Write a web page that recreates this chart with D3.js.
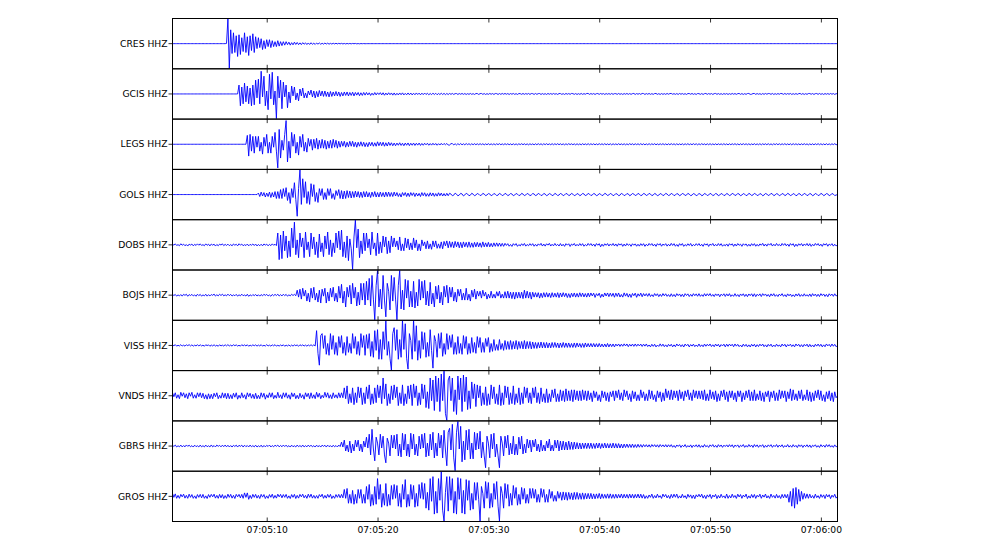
<!DOCTYPE html>
<html><head><meta charset="utf-8">
<script src="https://cdn.jsdelivr.net/npm/d3@7"></script>
<style>html,body{margin:0;padding:0;background:#fff;} svg{display:block;}</style>
</head><body>
<svg id="chart" width="1000" height="543"></svg>
<script>
// ---------------- DATA ----------------
const stations = ["CRES HHZ","GCIS HHZ","LEGS HHZ","GOLS HHZ","DOBS HHZ","BOJS HHZ","VISS HHZ","VNDS HHZ","GBRS HHZ","GROS HHZ"];
const startTime = "2000-01-01T07:05:01.500Z";
const endTime = "2000-01-01T07:06:01.500Z";
const sampleSeconds = 0.125;
const tickTimes = ["07:05:10","07:05:20","07:05:30","07:05:40","07:05:50","07:06:00"];

// amplitudes (pixel-like units, +-25 = panel edge), one value every 0.125 s (20 per row = 2.5 s)
const CRES = [
0,0,0,0,0,0,0,0,0,0,0,0,0,0,0,0,0,0,0,0,
0,0,0,0,0,0,0,0,0,0,0,0,0,0,0,0,0,0,0,0.2,
25,-25,14,-10,11,-9,8,-13,9,-11,6,-8,11,-9,7,-12,8,-7,10,-9,
7,-5,6,-4,5,-6,3,-5,4,-3,4,-4,3,-3,2,-3,3,-2.5,2,-2,
2,-1.5,2,-1,1.5,-1.5,1,-1.2,1.5,-0.8,1.2,-1,0.8,-1,1,-0.6,0.8,-0.9,0.7,-0.8,
0.9,-0.7,0.5,-0.8,0.6,-0.5,0.7,-0.6,0.4,-0.5,0.6,-0.4,0.5,-0.5,0.3,-0.4,0.4,-0.3,0.4,-0.3,
0.3,-0.2,0.3,-0.3,0.2,-0.3,0.2,-0.2,0.2,-0.2,0.2,-0.1,0.2,-0.2,0.1,-0.2,0.1,-0.1,0.1,-0.1,
0,0,0,0,0,0,0,0,0,0,0,0,0,0,0,0,0,0,0,0,
0,0,0,0,0,0,0,0,0,0,0,0,0,0,0,0,0,0,0,0,
0,0,0,0,0,0,0,0,0,0,0,0,0,0,0,0,0,0,0,0,
0,0,0,0,0,0,0,0,0,0,0,0,0,0,0,0,0,0,0,0,
0,0,0,0,0,0,0,0,0,0,0,0,0,0,0,0,0,0,0,0,
0,0,0,0,0,0,0,0,0,0,0,0,0,0,0,0,0,0,0,0,
0,0,0,0,0,0,0,0,0,0,0,0,0,0,0,0,0,0,0,0,
0,0,0,0,0,0,0,0,0,0,0,0,0,0,0,0,0,0,0,0,
0,0,0,0,0,0,0,0,0,0,0,0,0,0,0,0,0,0,0,0,
0,0,0,0,0,0,0,0,0,0,0,0,0,0,0,0,0,0,0,0,
0,0,0,0,0,0,0,0,0,0,0,0,0,0,0,0,0,0,0,0,
0,0,0,0,0,0,0,0,0,0,0,0,0,0,0,0,0,0,0,0,
0,0,0,0,0,0,0,0,0,0,0,0,0,0,0,0,0,0,0,0,
0,0,0,0,0,0,0,0,0,0,0,0,0,0,0,0,0,0,0,0,
0,0,0,0,0,0,0,0,0,0,0,0,0,0,0,0,0,0,0,0,
0,0,0,0,0,0,0,0,0,0,0,0,0,0,0,0,0,0,0,0,
0,0,0,0,0,0,0,0,0,0,0,0,0,0,0,0,0,0,0,0,
0];
const GCIS = [
0,0,0,0,0,0,0,0,0,0,0,0,0,0,0,0,0,0,0,0,
0,0,0,0,0,0,0,0,0,0,0,0,0,0,0,0,0,0,0,0,
0,0,0,0,0,0,0,0,9,-12,7,-10,11,-8,8,-10,6,-12,9,-11,
14,-4,15,-10,23,-3,18,-12,3,-16,20,-5,22,-11,3,-25,18,-4,14,-15,
12,-3,9,-14,2,-9,8,-2,7,-6,1,-7,5,-2,6,-4,1,-4,3,-1,
4,-3,3,-4,2.5,-3,3.5,-2,3,-2.5,3,-2.5,2,-3,2.5,-2.5,2,-2,2.5,-2,
2,-2.5,1.5,-2,2,-1.5,2,-2,1.5,-1.5,1.8,-2,1.5,-1.2,1.5,-1.8,1.2,-1.5,1.5,-1.2,
1.5,-1,1.2,-1.5,0.8,-1.2,1.4,-1,1.2,-0.6,1.3,-1,1.2,-1.3,0.9,-1,1.2,-0.8,1,-1.2,
1,-1.2,0.7,-1,1,-0.8,1.1,-1,0.6,-0.9,1,-0.8,0.9,-1,0.7,-0.8,1,-0.6,0.8,-0.9,
0.8,-0.7,0.9,-0.6,0.7,-0.8,0.5,-0.7,0.8,-0.6,0.7,-0.8,0.5,-0.6,0.7,-0.6,0.6,-0.7,0.5,-0.6,
0.5,-0.4,0.5,-0.5,0.3,0.4,-0.5,0.4,-0.3,0.5,-0.4,0.4,-0.5,0.3,-0.4,0.5,-0.4,0.3,-0.5,0.4,
0.4,-0.5,0.3,0.5,-0.4,0.4,-0.5,0.3,-0.4,0.5,-0.3,0.4,-0.5,0.4,0.3,-0.5,0.4,-0.4,0.5,-0.3,
0.5,-0.3,0.4,-0.5,0.4,-0.3,0.5,-0.4,0.3,-0.5,0.4,0.3,-0.4,0.5,-0.4,0.4,-0.3,0.5,-0.5,0.4,
0.3,-0.5,0.5,-0.4,0.3,0.4,-0.5,0.4,-0.4,0.3,-0.5,0.5,-0.3,0.4,-0.4,0.5,-0.3,0.3,-0.5,0.4,
0.4,-0.4,0.3,-0.5,0.5,-0.3,0.4,-0.4,0.5,0.3,-0.4,0.4,-0.5,0.3,-0.4,0.5,-0.4,0.3,-0.3,0.5,
0.5,-0.4,0.4,-0.3,0.4,-0.5,0.3,0.4,-0.4,0.5,-0.3,0.4,-0.5,0.4,-0.3,0.4,-0.4,0.5,-0.4,0.3,
0.3,-0.4,0.5,-0.4,0.3,-0.5,0.4,-0.3,0.5,-0.4,0.4,-0.4,0.3,0.5,-0.5,0.4,-0.3,0.4,-0.4,0.5,
0.4,-0.5,0.4,-0.3,0.5,-0.4,0.3,-0.4,0.4,0.5,-0.4,0.3,-0.5,0.4,-0.4,0.3,-0.4,0.5,-0.3,0.4,
0.5,-0.3,0.3,-0.4,0.4,-0.5,0.5,-0.3,0.4,-0.4,0.3,-0.5,0.4,0.4,-0.3,0.5,-0.4,0.3,-0.5,0.4,
0.3,-0.4,0.4,-0.5,0.3,0.5,-0.4,0.4,-0.3,0.4,-0.5,0.3,0.5,-0.4,0.4,-0.4,0.3,-0.5,0.4,-0.3,
0.4,-0.5,0.3,-0.4,0.5,-0.3,0.4,-0.4,0.3,0.5,-0.4,0.4,-0.5,0.3,-0.4,0.4,0.5,-0.4,-0.3,0.4,
0.5,-0.4,0.4,-0.3,0.3,-0.5,0.4,-0.4,0.5,-0.3,0.4,0.3,-0.4,0.5,-0.5,0.3,-0.4,0.4,-0.3,0.5,
0.3,-0.4,0.5,-0.4,0.4,-0.3,0.5,-0.5,0.3,-0.4,0.4,-0.4,0.3,0.5,-0.4,0.4,-0.5,0.3,-0.4,0.4,
0.4,-0.3,0.4,-0.5,0.3,0.4,-0.4,0.5,-0.4,0.3,-0.5,0.4,-0.3,0.4,-0.4,0.5,-0.3,0.4,-0.5,0.3,
0];
const LEGS = [
0,0,0,0,0,0,0,0,0,0,0,0,0,0,0,0,0,0,0,0,
0,0,0,0,0,0,0,0,0,0,0,0,0,0,0,0,0,0,0,0,
0,0,0,0,0,0,0,0,0,0,0,0,0,0,9,-12,10,-7,8,-9,
8,-3,8,-7,2,-10,7,-2,10,-9,2,-9,8,-3,12,-7,-24,15,-14,4,
-6,10,24,-18,3,-14,12,-2,10,-9,2,-11,8,-3,10,-7,2,-8,6,-2,
5,-6,5,-4,6,-5,4,-4,5,-4,4,-5,3,-4,4,-4,5,-3,4,-4,
3,-3,3,-2,3,-3,2,-2.5,3,-2,3,-2.5,2,-3,2,-2,2.5,-2,2,-2.5,
1.5,-2.5,2,-1.5,2,-2,1.5,-2,2.5,-1.5,2,-1.5,2,-2,1.5,-1.8,2,-1.2,1.5,-1.5,
1.2,-1.5,1.2,-1,1.5,-1.2,1,-1.5,1.2,-1,1.3,-1.4,1,-1,1.2,-1.2,1,-0.9,1.2,-1.2,
0.8,-1,1,-0.6,1,-1,0.7,-0.9,1,-0.8,0.8,-1,0.6,-0.8,0.9,-0.7,0.8,-0.5,0.8,-0.8,
-0.8,0.6,0.7,-0.7,0.5,-0.7,0.6,-0.5,0.7,-0.6,0.5,-0.6,0.7,-0.4,0.6,-0.6,0.5,-0.5,0.6,-0.5,
0.5,-0.5,0.6,-0.4,0.5,-0.6,0.4,-0.5,0.6,-0.5,0.4,-0.5,0.5,-0.6,0.5,-0.4,0.6,-0.5,0.4,-0.5,
0.6,-0.4,0.5,-0.5,0.4,-0.6,0.5,-0.5,0.4,-0.6,0.5,-0.4,0.6,-0.5,0.5,-0.5,0.4,-0.6,0.5,-0.4,
0.4,-0.6,0.5,-0.5,0.6,-0.4,0.5,-0.6,0.5,-0.4,0.6,-0.5,0.4,-0.5,0.6,-0.5,0.5,-0.4,0.6,-0.5,
0.5,-0.5,0.4,-0.6,0.5,-0.5,0.6,-0.4,0.5,-0.5,0.4,-0.6,0.5,-0.5,0.4,-0.6,0.6,-0.5,0.4,-0.5,
0.6,-0.5,0.5,-0.4,0.5,-0.6,0.4,-0.5,0.6,-0.4,0.5,-0.5,0.6,-0.5,0.4,-0.5,0.5,-0.6,0.5,-0.4,
0.4,-0.5,0.6,-0.5,0.4,-0.5,0.5,-0.6,0.4,-0.5,0.6,-0.4,0.5,-0.6,0.5,-0.4,0.5,-0.5,0.6,-0.5,
0.5,-0.6,0.4,-0.5,0.6,-0.5,0.5,-0.4,0.6,-0.6,0.4,-0.5,0.5,-0.4,0.6,-0.5,0.4,-0.6,0.5,-0.5,
0.6,-0.4,0.5,-0.6,0.5,-0.5,0.4,-0.5,0.5,-0.6,0.5,-0.4,0.6,-0.5,0.4,-0.5,0.6,-0.4,0.5,-0.6,
0.5,-0.5,0.6,-0.4,0.4,-0.6,0.5,-0.5,0.6,-0.5,0.4,-0.5,0.5,-0.6,0.5,-0.4,0.4,-0.5,0.6,-0.5,
0.4,-0.6,0.5,-0.5,0.5,-0.4,0.6,-0.5,0.4,-0.6,0.5,-0.5,0.6,-0.4,0.5,-0.5,0.5,-0.6,0.4,-0.5,
0.6,-0.5,0.4,-0.5,0.6,-0.6,0.5,-0.4,0.5,-0.5,0.6,-0.5,0.4,-0.6,0.5,-0.4,0.6,-0.5,0.5,-0.5,
0.5,-0.4,0.6,-0.5,0.4,-0.5,0.5,-0.6,0.6,-0.4,0.5,-0.5,0.4,-0.6,0.5,-0.5,0.6,-0.4,0.4,-0.6,
0.4,-0.5,0.5,-0.6,0.5,-0.4,0.6,-0.5,0.5,-0.5,0.4,-0.6,0.6,-0.5,0.4,-0.5,0.5,-0.4,0.6,-0.5,
0];
const GOLS = [
0,0,0,0,0,0,0,0,0,0,0,0,0,0,0,0,0,0,0,0,
0,0,0,0,0,0,0,0,0,0,0,0,0,0,0,0,0,0,0,0,
0,0,0,0,0,0,0,0,0,0,0,0,0,0,0,0,0,0,0,0,
0,0,1.5,-2,2.5,-1.5,2,-2.5,1.5,-2,2.5,-3,2,-2.5,3,-4,3,-4,5,-4,
6,-2,7,-6,2,-9,6,-3,12,-5,-22,6,25,-10,16,-3,13,-9,3,-10,
11,-2,10,-7,2,-8,6,-1,6,-5,2,-5,6,-1,6,-4,1,-5,4,-1,
5,-4,4,-4.5,3.5,-4,4,-3,3.5,-3.5,3,-3,3.5,-2.5,3,-3,2.5,-3,3,-2.5,
3,-2.5,2,-3,2.5,-2,3,-2.5,2,-2.5,2.5,-2,2,-2.5,2.5,-2,2.5,-2,2,-2,
2.5,-1.5,2,-2,1,-2.5,2,-1,2,-2,1.5,-2,2,-1,1.8,-2,1.5,-1.5,1.2,-2,
2,-1.2,1.8,-1.8,1,-1.8,1.8,-1.4,1.6,-1.8,1,-1.6,1.8,-1.2,1.5,-1.5,1,-1.5,1.3,-1.2,
1.3,0.5,-1.2,-0.6,1.4,0.4,-1.3,-0.5,1.2,0.6,-1.4,-0.4,1.3,0.5,-1.2,-0.6,1.3,0.4,-1.2,-0.5,
1.1,0.4,-1,-0.6,1.2,0.5,-1.1,-0.4,1,0.6,-1.2,-0.5,1.1,0.3,-1,-0.6,1.2,0.4,-1.1,-0.5,
1.2,0.5,-1.1,-0.4,1,0.6,-1.2,-0.5,1.1,0.4,-1,-0.6,1.2,0.5,-1.1,-0.4,1.1,0.5,-1.2,-0.4,
1,0.6,-1.1,-0.5,1.2,0.4,-1,-0.6,1.1,0.5,-1.2,-0.4,1,0.5,-1.1,-0.6,1.2,0.4,-1,-0.5,
1.1,0.5,-1.2,-0.4,1.1,0.6,-1,-0.5,1.2,0.4,-1.1,-0.6,1,0.5,-1.2,-0.4,1.1,0.6,-1.1,-0.5,
1.2,0.4,-1,-0.5,1.1,0.5,-1.2,-0.6,1,0.4,-1.1,-0.5,1.2,0.6,-1,-0.4,1.1,0.5,-1.2,-0.5,
1,0.5,-1.1,-0.6,1.2,0.4,-1.1,-0.5,1,0.6,-1.2,-0.4,1.1,0.5,-1,-0.5,1.2,0.4,-1.1,-0.6,
1.1,0.6,-1,-0.4,1.2,0.5,-1.1,-0.5,1.1,0.4,-1.2,-0.6,1,0.5,-1.1,-0.4,1.2,0.5,-1,-0.5,
1.2,0.4,-1.1,-0.5,1,0.5,-1.2,-0.4,1.1,0.6,-1,-0.5,1.2,0.4,-1.1,-0.6,1,0.5,-1.2,-0.4,
1,0.5,-1.2,-0.6,1.1,0.4,-1,-0.5,1.2,0.5,-1.1,-0.4,1,0.6,-1.2,-0.5,1.1,0.4,-1,-0.6,
1.1,0.4,-1.1,-0.5,1.2,0.6,-1,-0.4,1.1,0.5,-1.2,-0.5,1,0.4,-1.1,-0.6,1.2,0.5,-1,-0.4,
1.2,0.5,-1,-0.6,1,0.4,-1.2,-0.5,1.1,0.5,-1,-0.4,1.2,0.6,-1.1,-0.5,1,0.4,-1.2,-0.5,
1,0.6,-1.1,-0.4,1.2,0.5,-1.1,-0.5,1,0.4,-1.2,-0.6,1.1,0.5,-1,-0.4,1.2,0.5,-1.1,-0.5,
1.1,0.5,-1.2,-0.5,1.1,0.4,-1,-0.6,1.2,0.5,-1.1,-0.4,1,0.6,-1.2,-0.5,1.1,0.4,-1,-0.5,
0];
const DOBS = [
0.8,-0.3,1,-0.6,0.2,-0.9,1.1,-0.4,0.7,-0.9,0.3,-1.2,0.7,-0.2,0.8,-1,0.5,-0.6,1,-0.4,
1,-0.6,0.2,-0.9,1,-0.5,0.7,-1.1,0.8,-0.3,0.7,-1.2,0.4,-0.9,0.7,-0.2,1,-0.8,0.5,-0.6,
0.7,-0.8,0.3,-1,0.9,-0.4,0.6,-1,1.1,-0.3,0.8,-0.9,0.2,-0.7,0.8,-1,0.5,-0.4,0.9,-0.7,
0.8,-1.1,0.4,-0.9,0.6,-1,0.9,-0.3,0.7,-1,0.5,-0.8,1,-0.4,0.6,-0.8,12,-15,10,-14,
14,-6,9,-13,4,-12,17,-3,23,-10,5,-13,12,-2,7,-13,13,-5,3,-12,
12,-4,8,-10,3,-13,11,-7,2,-12,9,-4,13,-10,5,-12,2,-8,12,-3,
14,-5,15,-12,3,-13,9,-16,6,-4,-25,8,25,-3,16,-13,4,-9,12,-6,
12,-3,6,-10,13,-4,2,-11,12,-9,3,-8,9,-2,8,-9,4,-8,9,-2,
7,-2,4,-5,8,-6,1,-6,7,-3,6,-5,2,-5,7,-3,5,-6,1,-6,
5,-1,3,-4,4,-4,1,-4.5,4,-2,4,-3.5,1,-3.5,3,-4,3.5,-1,4,-3,
3.5,-2.5,3,-3,3.5,-2,3,-3,2.5,-3,3,-2,2.5,-2.5,3,-2.5,2,-2.5,2.5,-2,
2.5,-2,2,-2.5,3,-2,2,-2,2.5,-2,1.5,-2,2,-1.5,2,-1.5,1.8,-1.5,1.5,-1.5,
1.5,-0.6,1.2,-1.4,0.4,-1.6,1.2,-0.5,1.3,-1.5,0.3,-1.1,1.1,-0.7,1.4,-1.3,0.4,-0.9,1.2,-0.6,
1.2,-1.4,0.5,-1.3,1,-0.4,1.5,-1.2,0.8,-1.3,1.1,-0.3,1.5,-1.2,0.6,-1,1.4,-0.8,0.5,-1.2,
1.3,-1.1,0.6,-1.5,1.2,-0.3,1.1,-1.6,0.8,-0.4,1.4,-1.2,0.5,-1,1.3,-0.7,1.2,-1.4,0.3,-1,
1.4,-0.5,1.3,-1,0.8,-1.5,1.3,-0.4,1.2,-2,0.7,-1.4,1.1,-0.5,1.3,-1.2,0.9,-0.6,1.4,-1.1,
0.9,-1.4,1.2,-0.3,1.1,-1.5,0.8,-1.2,1.3,-0.5,0.7,-1.5,1.1,-0.4,1,-1.4,0.6,-1.3,1.2,-0.7,
1.2,-1.5,0.6,-1,1.4,-0.4,1.3,-1.1,0.7,-1.5,1.2,-0.3,1.3,-1.4,0.8,-0.5,1.2,-1.3,0.6,-1.1,
1.5,-0.6,1.2,-1.4,0.4,-1.6,1.2,-0.5,1.3,-1.5,0.3,-1.1,1.1,-0.7,1.4,-1.3,0.4,-0.9,1.2,-0.6,
1.3,-1.1,0.6,-1.5,1.2,-0.3,1.1,-1.6,0.8,-0.4,1.4,-1.2,0.5,-1,1.3,-0.7,1.2,-1.4,0.3,-1,
0.9,-1.4,1.2,-0.3,1.1,-1.5,0.8,-1.2,1.3,-0.5,0.7,-1.5,1.1,-0.4,1,-1.4,0.6,-1.3,1.2,-0.7,
1.2,-1.4,0.5,-1.3,1,-0.4,1.5,-1.2,0.8,-1.3,1.1,-0.3,1.5,-1.2,0.6,-1,1.4,-0.8,0.5,-1.2,
1.4,-0.5,1.3,-1,0.8,-1.5,1.3,-0.4,1.2,-1.8,0.7,-1.4,1.1,-0.5,1.3,-1.2,0.9,-0.6,1.4,-1.1,
1.2,-1.5,0.6,-1,1.4,-0.4,1.3,-1.1,0.7,-1.5,1.2,-0.3,1.3,-1.4,0.8,-0.5,1.2,-1.3,0.6,-1.1,
0];
const BOJS = [
0.9,-0.4,0.7,-1,0.3,-0.8,0.6,-1,0.8,-0.2,0.9,-1.1,0.6,-0.4,0.8,-0.8,0.3,-1.1,0.9,-0.5,
0.8,-1,0.3,-0.7,0.9,-1,0.5,-0.8,0.6,-0.2,1.1,-0.9,0.4,-0.7,0.9,-0.4,1,-0.7,0.3,-0.7,
1,-0.5,0.8,-0.9,0.3,-0.6,0.8,-1,0.4,-0.7,1,-0.6,0.2,-0.9,0.9,-1.2,0.4,-0.8,0.6,-0.5,
0.7,-0.9,0.4,-1,0.6,-0.7,0.9,-0.3,0.8,-0.8,0.2,-1.1,0.7,-0.6,0.8,-0.4,1,-0.9,0.5,-0.8,
0.9,-0.5,0.8,-1,0.3,-0.7,0.9,-0.4,0.8,-0.6,5,-2,6,-4,7,-1,5,-6,2,-7,
7,-3,8,-5,2,-7,5,-8,6,-1,7,-8,3,-6,7,-2,8,-6,2,-7,
9,-3,11,-8,4,-12,8,-2,10,-9,12,-3,8,-11,3,-10,12,-5,12,-10,
14,-5,17,-11,20,-4,-25,10,25,-12,6,-14,20,-5,-22,12,4,-15,20,-6,
18,-4,-25,10,25,-14,5,-15,16,-3,15,-12,4,-12,14,-13,3,-11,16,-5,
14,-3,15,-10,4,-11,13,-9,2,-12,9,-4,10,-8,3,-10,9,-2,10,-8,
8,-2,8,-6,3,-7,6,-1,6,-5,2,-5,7,-5,1,-6,5,-2,6,-4,
4,-1,4,-3,5,-1,3,-4,1,-3,4,-3,1,-3,3.5,-1,4,-3,1,-3,
3.5,-3,4,-3,3,-3.5,3,-4,3,-3,3,-3,3,-3.5,5,-3,4,-3,3,-4,
3,-2,2.5,-2,2.5,-3,2,-2.5,2.5,-2,2.5,-2,2,-2.5,2.5,-2,2,-2,2.5,-2.5,
2.2,-1.8,2.5,-1.5,2,-2.4,1.5,-2.5,2,-1.6,2.2,-2,1.8,-2,2.4,-1.5,2.1,-1.8,1.6,-2,
2.1,-1.6,2.2,-0.8,2,-2.3,1.5,-0.6,2,-2.4,1,-1.8,2.2,-0.9,2.2,-1.5,2,-1.2,1.9,-2.1,
2,-1.3,2.2,-1.9,0.7,-2,2.3,-1,1.8,-2,1.2,-2.3,1.7,-0.6,2,-2.2,1.4,-1,2.1,-1.6,
1.6,-0.8,1.5,-1.2,1.7,-1.4,0.5,-1.5,1.6,-0.6,1.4,-1.5,0.9,-1.3,1.6,-0.7,1.4,-1.2,0.6,-1.5,
1.4,-1.3,0.7,-1.6,1.5,-0.5,1.2,-1.4,0.9,-1.6,1.5,-0.4,1.3,-1.4,0.8,-1.2,1.5,-0.6,1.3,-1.1,
1.5,-1.2,0.5,-1.3,1.5,-0.9,1.4,-0.6,1.6,-1.1,0.7,-1.4,1.3,-0.5,1.2,-1.6,1,-0.5,1.4,-1.3,
1.3,-0.8,1.5,-1.4,0.4,-1.2,1.5,-1.1,0.6,-1.6,1.2,-0.5,1.4,-1.3,0.9,-1.5,1.2,-0.5,1.4,-1.3,
1.4,-1.5,0.9,-0.6,1.3,-1.4,1.5,-0.4,1.2,-1.1,0.7,-1.6,1.3,-0.8,1.5,-1.2,0.5,-1.4,1.1,-0.6,
1.5,-1.2,0.5,-1.6,1.3,-0.7,1.1,-1.4,0.4,-1.5,1.2,-0.9,1.5,-1.3,0.6,-1.1,1.4,-1,0.5,-1.2,
1.2,-1.4,1.5,-0.7,1.1,-1.3,0.9,-1.4,1.5,-0.5,1.2,-1.3,0.8,-1.6,1.4,-0.5,1.1,-1.2,1.4,-0.8,
0];
const VISS = [
0.6,-0.3,0.8,-0.7,0.2,-0.5,0.8,-0.6,0.3,-0.7,0.7,-0.2,0.8,-0.5,0.6,-0.7,0.3,-0.5,0.8,-0.6,
0.7,-0.5,0.3,-0.8,0.7,-0.2,0.6,-0.8,0.4,-0.5,0.7,-0.6,0.2,-0.8,0.7,-0.5,0.3,-0.6,0.7,-0.4,
0.8,-0.5,0.4,-0.7,0.8,-0.3,0.6,-0.6,0.2,-0.7,0.8,-0.4,0.6,-0.5,0.7,-0.8,0.3,-0.5,0.6,-0.3,
0.6,-0.7,0.4,-0.5,0.8,-0.7,0.2,-0.6,0.8,-0.5,0.3,-0.7,0.6,-0.4,0.8,-0.7,0.2,-0.6,0.5,-0.5,
0.7,-0.8,0.3,-0.5,0.6,-0.8,0.4,-0.7,0.6,-0.2,0.5,-0.8,0.7,-0.3,0.6,-0.6,0.4,-0.7,0.5,-0.4,
0.7,-0.4,0.6,-0.5,15,-8,-20,10,12,-3,10,-9,2,-10,12,-4,10,-9,3,-10,
9,-2,10,-8,3,-10,9,-7,2,-8,12,-3,9,-9,4,-10,12,-2,10,-10,
11,-3,12,-11,4,-12,15,-5,16,-14,6,-14,14,-4,25,-10,4,-13,-25,12,
18,-5,16,-14,6,-12,26,-4,22,-13,-24,12,5,-14,26,-6,20,-15,5,-13,
14,-4,13,-12,3,-11,16,-5,-23,10,4,-12,12,-3,13,-11,2,-9,12,-4,
10,-2,11,-9,3,-9,9,-8,2,-9,10,-3,9,-9,2,-8,8,-7,3,-8,
9,-2,8,-7,3,-7,7,-1,8,-7,2,-6,6,-5,1,-5,6,-4,2,-5,
5,-4,4,-4,5,-4,4,-3.5,5,-4,4,-3,4,-3.5,5,-3.5,4,-3,4,-3.5,
3.5,-3,3,-3,3,-2.5,3.5,-2.5,3,-2.5,3,-2.5,2.5,-2.5,3,-2,3,-2,2.5,-2.5,
2.5,-2,3,-2,2.5,-2,2.5,-2,2,-2,2.5,-2,2.5,-1.5,2,-2,2,-2,2.5,-1.5,
2,-1.5,2,-1.5,2,-1.5,1.8,-1.5,2,-1.5,1.5,-1.5,1.5,-1.5,2,-1.5,1.5,-1.2,1.5,-1.5,
1.4,-0.6,1.5,-1,1.3,-0.8,1.6,-0.5,1.5,-1.2,1.2,-0.7,1.4,-0.9,1.5,-0.8,1.3,-0.5,1.4,-1,
1.3,-0.7,1.5,-1.1,0.5,-1.4,1.2,-0.9,1.2,-1.5,0.4,-1,1.6,-0.8,1.3,-1.2,0.6,-1.4,1.1,-0.7,
1.2,-1.4,0.6,-1.3,1.5,-0.5,1.1,-1.2,0.8,-1.6,1.4,-0.4,1.2,-1.5,0.9,-0.7,1.3,-1.2,0.5,-1.1,
1.5,-1.1,0.6,-1.3,1.4,-0.8,1.2,-0.5,1.5,-1.1,0.7,-1.3,1.4,-0.6,1.2,-1.5,0.9,-0.5,1.3,-1.4,
1.3,-0.9,1.4,-0.5,1.2,-1.3,1.5,-0.7,1.1,-1.2,0.4,-1.5,1.3,-0.8,1.1,-1.4,0.6,-1.5,1.2,-0.7,
1.2,-1.5,0.8,-1.1,1.3,-0.5,1.4,-1.2,0.6,-1.5,1.1,-0.7,1.3,-1.4,0.4,-1.2,1.3,-0.9,0.5,-1.4,
1.4,-0.6,1.2,-1.5,0.9,-0.4,1.3,-1.1,0.7,-1.4,1.5,-0.5,1.2,-1.3,0.8,-1.4,1.1,-0.6,1.3,-1.5,
1.1,-1.3,0.5,-1.5,1.2,-0.7,1.4,-0.9,1.2,-1.4,0.6,-1.3,1.5,-0.4,1.1,-1.2,1.5,-0.8,1.1,-1.3,
0];
const VNDS = [
3,-1,3,-2.5,1,-3,3.5,-0.5,3,-2,2,-3,3,-0.5,3.5,-2.5,1,-2.5,3,-1,
3,-2,2.5,-3,1,-3.5,2,-3,1.5,-3,2.5,-1,3,-3,0.5,-2.5,3,-2,2.5,-3,
2.5,-3,1,-3,2.5,-1.5,3,-3.5,0.5,-2.5,3,-2,1,-3.5,3,-1,2.5,-2.5,1.5,-3,
2.5,-3,0.5,-3,3,-1.5,2.5,-3.5,1,-2,3,-1.5,3,-3,0.5,-2.5,3.5,-2,1,-3,
3,-1.5,3,-2.5,1,-3.5,3,-1,2.5,-3,0.5,-3,2.5,-2,1,-3.5,3,-1,2.5,-3,
3,-2.5,1,-3,3.5,-1.5,2.5,-3,0.5,-2,3.5,-1.5,3,-2.5,1,-3,3,-2,1,-2.5,
3,-2,3,-2,8,-3,10,-8,2,-7,8,-9,3,-7,9,-2,8,-9,3,-8,
9,-3,11,-9,2,-8,8,-7,11,-2,10,-8,18,-3,12,-10,2,-8,10,-4,
11,-2,9,-10,3,-8,11,-10,2,-8,10,-3,11,-10,12,-2,10,-10,3,-9,
12,-3,11,-12,4,-13,18,-5,16,-15,20,-6,18,-16,22,-5,25,-18,-25,16,
20,-5,18,-16,6,-19,20,-4,18,-16,21,-6,19,-14,5,-13,14,-3,12,-11,
11,-2,10,-10,3,-9,9,-10,2,-9,11,-3,9,-8,2,-9,11,-10,3,-9,
10,-2,9,-9,3,-8,10,-9,2,-7,8,-9,3,-8,9,-2,8,-7,3,-8,
8,-2,9,-7,3,-8,8,-6,2,-7,7,-7,2,-6,6,-2,7,-6,2,-6,
6,-5,5,-6,7,-5,5,-5,6,-6,6,-4,5,-5,5,-5,6,-4,5,-5,
5,-4,3,-6,5,-2,4,-5,1,-6,5,-2,4,-5,3,-6,4,-1,5,-5,
5,-2,6,-4,3,-5,6,-1,5,-4,2,-6,5,-3,4,-5,1,-5,6,-2,
4,-5,2,-5,6,-3,5,-4,1,-6,5,-2,4,-6,3,-5,7,-2,5,-4,
6,-4,5,-2,5,-5,6,-3,4,-5,5,-1,6,-4,3,-5,6,-2,5,-3,
5,-3,5,-4,6,-5,2,-5,6,-3,4,-4,5,-6,2,-5,5,-1,6,-4,
4,-6,5,-2,5,-4,3,-6,5,-1,5,-6,3,-4,5,-2,6,-5,4,-5,
6,-5,2,-4,5,-5,3,-6,4,-1,5,-6,4,-2,5,-5,3,-5,6,-3,
5,-2,5,-6,4,-3,7,-5,6,-4,2,-5,5,-3,6,-5,1,-4,6,-5,
4,-6,3,-5,5,-2,6,-4,5,-5,1,-6,4,-3,5,-5,3,-6,4,-2,
0];
const GBRS = [
0.8,-0.4,1,-0.9,0.3,-0.7,1,-0.9,0.5,-0.8,1.1,-0.3,0.9,-0.7,0.4,-1,0.9,-0.6,0.3,-0.9,
1,-0.8,0.4,-0.9,1,-0.7,0.3,-0.9,1.1,-0.8,0.5,-0.9,1,-0.3,0.7,-0.8,0.9,-0.6,1,-0.8,
0.8,-0.9,0.5,-1,0.7,-0.4,0.9,-1,0.8,-0.3,0.9,-1,0.8,-0.6,0.5,-0.9,1,-0.7,0.4,-0.8,
0.9,-1,0.3,-0.8,0.9,-1.1,0.6,-0.8,0.7,-0.4,1,-0.9,0.5,-0.8,0.9,-0.3,1,-0.8,0.6,-0.7,
1,-0.5,0.9,-0.8,0.4,-1,0.9,-0.7,0.3,-0.9,1,-0.6,0.5,-0.8,1,-0.9,0.4,-0.8,1,-0.6,
0.9,-0.8,0.4,-1,0.9,-0.7,0.5,-1,0.9,-0.3,0.8,-1,0.9,-0.6,0.4,-1,0.8,-0.7,0.5,-0.9,
1,-0.5,4,-1,6,-5,1,-6,5,-7,2,-5,6,-1,6,-5,2,-6,5,-1,
9,-2,12,-9,17,-3,-15,9,3,-9,12,-2,10,-9,-17,8,3,-10,11,-2,
11,-3,12,-10,2,-11,13,-4,12,-10,2,-11,13,-3,12,-9,2,-10,10,-3,
12,-2,13,-11,3,-10,12,-4,14,-12,3,-10,13,-2,11,-12,16,-4,-20,14,
18,-4,22,-12,-25,14,25,-3,20,-16,5,-14,16,-4,17,-13,3,-13,14,-4,
13,-3,15,-12,4,-10,-22,10,3,-12,12,-3,13,-11,2,-10,-22,10,3,-10,
10,-2,11,-9,3,-8,10,-9,2,-9,9,-3,10,-8,2,-7,7,-2,6,-6,
6,-1,7,-5,2,-6,6,-5,1,-5,5,-2,7,-5,1,-5,6,-2,6,-5,
5,-4,5,-4,4,-4,5,-3.5,4,-3.5,4,-3,3.5,-3,3,-3,3,-2.5,3,-2.5,
3,-2.5,3,-2.5,2.5,-2.5,3,-2,3,-2.5,2.5,-2,3,-2,2.5,-2,2.5,-2,3,-2,
2.5,-2,2.5,-2,2,-2,2,-1.5,2,-1.5,1.8,-1.5,2,-1.5,1.5,-1.5,1.8,-1.2,1.5,-1.2,
1.5,-0.7,1.4,-1,1.3,-1.2,1.5,-0.5,1.4,-0.9,1.3,-1.2,1.5,-0.6,1.2,-0.9,1.4,-1,1.3,-0.7,
1.4,-1.2,0.6,-1.5,1.1,-0.4,1.3,-1.4,0.8,-0.7,1.5,-1.3,0.5,-1,1.2,-1.5,0.9,-0.6,1.3,-1.1,
1.3,-1.4,0.5,-1.2,1.5,-0.8,0.6,-1.4,1.2,-0.4,1.5,-1.1,0.7,-1.3,1.4,-0.6,1.1,-1.3,0.9,-0.5,
1.2,-0.9,1.4,-0.6,1.3,-1.5,1,-0.4,1.2,-1.4,0.8,-0.5,1.5,-1.3,0.6,-1.1,1.5,-0.7,1,-1.4,
1.5,-0.6,1.2,-1.3,0.9,-0.5,1.4,-1.5,0.7,-1.1,1.2,-0.4,1.4,-1.3,0.8,-0.6,1.5,-1.2,1,-0.7,
1.3,-1.4,0.5,-0.9,1.5,-1.1,0.6,-1.2,1.4,-0.8,0.7,-1.5,1.3,-0.5,1.2,-1.4,0.9,-0.6,1.3,-1.1,
1.1,-1.5,0.8,-0.4,1.3,-1.2,0.5,-1.4,1.4,-0.7,0.9,-1.2,1.5,-0.6,1.4,-1.1,0.5,-1.3,1.2,-0.8,
0];
const GROS = [
3,-1,2.5,-2,1,-2,2,-0.5,2.2,-1.8,1,-2,2.2,-1,1.8,-2,0.5,-2.2,1.8,-1,
2,-1.5,2,-2,0.5,-2.2,1.8,-1,2,-0.5,2.2,-1.8,1,-2,2,-1.5,1.8,-2.2,0.8,-2,
2.2,-1,2,-1.8,1,-2.2,2,-0.5,2,-1.5,2,-2,3.5,-1,3.5,-3,1,-2.2,2,-1,
2,-1.8,1,-2.2,2,-0.8,1.8,-2.2,0.5,-2,1.8,-1,2.2,-2,1,-1.8,2.2,-0.5,2,-1.5,
1.8,-1,2,-2,0.5,-2.2,1.8,-1,2,-2.2,1,-1.8,2,-0.5,2.2,-1.5,1,-2,2.2,-1,
2.2,-1.8,1,-2,0.8,-2,1.8,-0.5,2.2,-2,1,-1.8,2,-1,2,-2.2,0.5,-2,1.8,-1,
2,-1.5,2,-1.5,7,-2,8,-7,2,-7,6,-8,2,-7,7,-2,7,-7,2,-7,
10,-3,12,-10,2,-9,10,-8,18,-3,12,-11,3,-9,13,-10,2,-9,11,-3,
12,-2,11,-10,3,-11,12,-3,17,-11,2,-10,12,-3,11,-11,3,-10,12,-2,
14,-3,13,-12,4,-14,18,-5,20,-18,5,-17,18,-4,25,-14,-25,4,20,-15,
20,-4,18,-17,5,-18,19,-3,18,-17,6,-18,17,-4,16,-14,3,-13,14,-4,
14,-3,-25,10,3,-12,15,-2,14,-12,3,-11,13,-3,15,-10,-25,10,3,-12,
13,-2,12,-10,3,-9,11,-2,9,-9,2,-8,9,-3,8,-7,2,-7,8,-2,
8,-2,7,-6,2,-6,8,-1,7,-6,2,-6,7,-2,5,-5,1,-5,5,-2,
4,-4,4.5,-3.5,4,-4,4,-3,3.5,-3.5,4,-3,4,-3,3,-3,3.5,-3,3,-2.5,
3,-2.5,3,-2.5,2.5,-2.5,2.5,-2,3,-2.5,2.5,-2,2,-2,2.5,-2,2.5,-2,2,-2,
2.2,-1.8,2,-1.5,2.4,-1.8,2.1,-1.6,2,-1.9,2.3,-1.6,2.1,-1.8,2,-1.5,2.3,-1.7,2.2,-1.8,
1.8,-2.2,0.6,-2,1.4,-1,2.3,-2,0.8,-1.6,2.2,-1.1,0.7,-2.1,2.3,-0.5,1.9,-1.6,0.9,-2.2,
2,-1.4,2.2,-0.9,2.3,-1.9,0.5,-1.7,2.1,-1.2,0.7,-2.3,2.1,-0.9,1.5,-2,1.2,-2.4,1.6,-0.6,
2.1,-0.7,2.2,-1.8,1,-2.3,1.5,-0.8,2,-2.2,1.3,-0.6,2,-2.2,0.9,-1.7,2.1,-1.1,0.5,-1.9,
2.3,-2,0.8,-1.6,2.2,-1.1,0.9,-2.1,2.2,-0.6,1.8,-2,1.3,-0.7,2.3,-2.2,0.5,-1.8,1.9,-1.2,
1.9,-2.1,1.1,-0.7,2.2,-2,1.4,-0.8,2.3,-1.7,0.6,-2.1,2.3,-1,0.9,-1.8,2,-1.5,0.8,-2.2,
2,-1.5,2,-1.5,2,-6,5,-10,8,-12,9,-8,7,-5,5,-3,3,-2,2.5,-2,
2.2,-1.6,0.8,-2,2.2,-1.3,0.7,-2.1,1.9,-1,1.5,-2.2,2,-0.6,1.7,-2.3,1.2,-0.9,2.1,-1.8,
0];
const traces = [CRES, GCIS, LEGS, GOLS, DOBS, BOJS, VISS, VNDS, GBRS, GROS];

// ---------------- DRAWING ----------------
const svg = d3.select("#chart");
const W = 1000, H = 543;
const plot = {left: 172.5, right: 837.5, top: 18.5, bottom: 521.5};
const FONT = "'DejaVu Sans', sans-serif";

const t0 = new Date(startTime), t1 = new Date(endTime);
const x = d3.scaleUtc().domain([t0, t1]).range([plot.left, plot.right]);
const band = d3.scaleBand().domain(stations).range([plot.top, plot.bottom]).paddingInner(0).paddingOuter(0);
const bh = band.bandwidth();
const amp = d3.scaleLinear().domain([-25.5, 25.5]).range([bh, 0]);

const parseHMS = d3.utcParse("%Y-%m-%dT%H:%M:%S");
const tickDates = tickTimes.map(s => parseHMS("2000-01-01T" + s));
const fmt = d3.utcFormat("%H:%M:%S");

const line = d3.line()
  .x((d, i) => x(new Date(t0.getTime() + i * sampleSeconds * 1000)))
  .y(d => amp(d));

svg.append("rect").attr("width", W).attr("height", H).attr("fill", "#fff");

stations.forEach((name, k) => {
  const g = svg.append("g").attr("transform", `translate(0,${band(name)})`);
  const cid = "clip" + k;
  g.append("clipPath").attr("id", cid)
    .append("rect").attr("x", plot.left).attr("y", 0)
    .attr("width", plot.right - plot.left).attr("height", bh);

  g.append("path")
    .datum(traces[k])
    .attr("clip-path", `url(#${cid})`)
    .attr("fill", "none")
    .attr("stroke", "#0000ff")
    .attr("stroke-width", 0.9)
    .attr("stroke-linejoin", "miter")
    .attr("d", line);

  const isLast = k === stations.length - 1;
  const bottomAxis = g.append("g").attr("transform", `translate(0,${bh})`)
    .call(d3.axisBottom(x).tickValues(tickDates).tickSize(-4).tickPadding(5)
      .tickFormat(isLast ? fmt : () => ""));
  const topAxis = g.append("g")
    .call(d3.axisTop(x).tickValues(tickDates).tickSize(-4).tickFormat(() => ""));
  [bottomAxis, topAxis].forEach(a => {
    a.select(".domain").remove();
    a.selectAll("line").attr("stroke", "#000").attr("stroke-width", 0.8);
    a.selectAll("text").attr("font-family", FONT).attr("font-size", "9.2px").attr("fill", "#000");
  });

  g.append("rect").attr("x", plot.left).attr("y", 0)
    .attr("width", plot.right - plot.left).attr("height", bh)
    .attr("fill", "none").attr("stroke", "#000").attr("stroke-width", 1);

  g.append("line").attr("x1", plot.left - 4).attr("x2", plot.left)
    .attr("y1", amp(0)).attr("y2", amp(0)).attr("stroke", "#000").attr("stroke-width", 0.8);
  g.append("text").attr("x", plot.left - 5).attr("y", amp(0)).attr("dy", "0.35em")
    .attr("text-anchor", "end").attr("font-family", FONT).attr("font-size", "9.2px")
    .attr("fill", "#000").text(name);
});
</script>
</body></html>
